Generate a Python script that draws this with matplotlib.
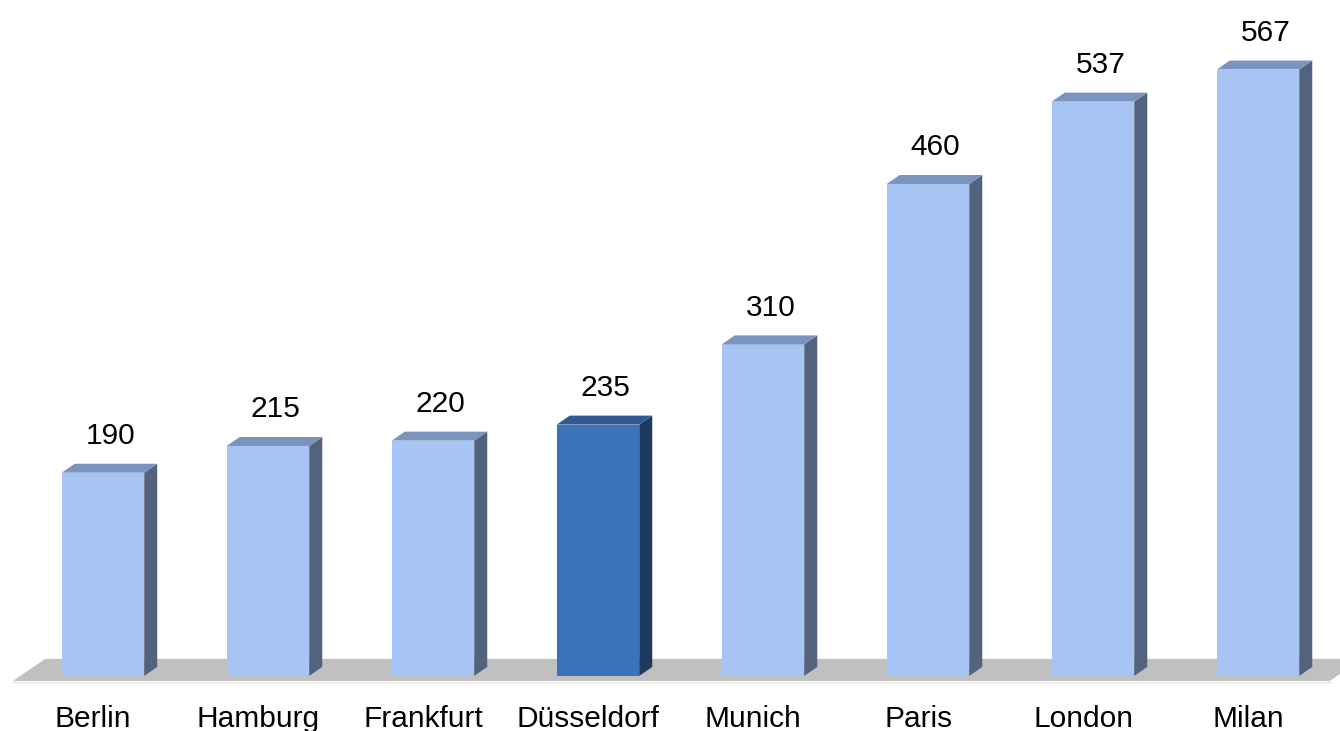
import numpy as np
import matplotlib
matplotlib.use('Agg')
import matplotlib.pyplot as plt
from matplotlib.patches import Polygon

# Chart data
cities = ['Berlin', 'Hamburg', 'Frankfurt', 'Düsseldorf', 'Munich', 'Paris', 'London', 'Milan']
values = [190, 215, 220, 235, 310, 460, 537, 567]
highlight = 'Düsseldorf'

plt.rcParams['font.family'] = ['Liberation Sans', 'DejaVu Sans']

fig = plt.figure(figsize=(13.4, 7.31), dpi=100)
ax = fig.add_axes([0, 0, 1, 1])
ax.set_xlim(-0.624, 7.497)
ax.set_ylim(-51.5, 632)
ax.axis('off')

width = 0.5
dx, dy = 0.079, 8.4          # fake 3D depth offset

light = dict(front='#A6C5F5', side='#53637E', top='#7B94BF')
dark = dict(front='#3C73B8', side='#1F3A5E', top='#2F5A93')

# grey floor
floor_lo, floor_hi = -4.7, 15.9
floor_dx = (floor_hi - floor_lo) / dy * dx
floor = Polygon([(-0.545, floor_lo), (7.436, floor_lo),
                 (7.436 + floor_dx, floor_hi), (-0.545 + floor_dx, floor_hi)],
                closed=True, facecolor='#C0C0C0', edgecolor='none', zorder=0)
ax.add_patch(floor)
ax.plot([-0.545, 7.436], [floor_lo - 0.6, floor_lo - 0.6], color='#E6E6E6', lw=1, zorder=0)

for i, (city, v) in enumerate(zip(cities, values)):
    c = dark if city == highlight else light
    left, right = i - width / 2, i + width / 2
    ax.bar(i, v, width=width, color=c['front'], edgecolor='none', zorder=2)
    side = Polygon([(right, 0), (right + dx, dy), (right + dx, v + dy), (right, v)],
                   closed=True, facecolor=c['side'], edgecolor='none', zorder=2)
    top = Polygon([(left, v), (right, v), (right + dx, v + dy), (left + dx, v + dy)],
                  closed=True, facecolor=c['top'], edgecolor='none', zorder=2)
    ax.add_patch(side)
    ax.add_patch(top)
    ax.text(i + 0.045, v + 27, str(v), ha='center', va='baseline', fontsize=21.5, color='black')
    ax.text(i - 0.06, -47.5, city, ha='center', va='baseline', fontsize=21.5, color='black')

fig.savefig('out.png', dpi=100)
